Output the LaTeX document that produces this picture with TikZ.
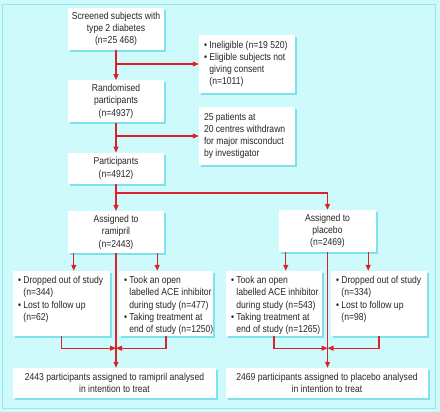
\documentclass[tikz,border=0pt]{standalone}
\usepackage{fontspec}
\setmainfont[FakeStretch=0.86]{Liberation Sans}
\usetikzlibrary{
    arrows.meta,
    positioning,
    calc,
    shadows,
}
\definecolor{bgcyan}{RGB}{206,250,252}
\definecolor{shadecyan}{RGB}{125,226,236}
\definecolor{framecyan}{RGB}{150,232,240}
\definecolor{flowred}{RGB}{222,32,40}
\newcommand{\nsp}{\hphantom{\textbullet\ }}
\newcommand{\listtext}[3]{\parbox[c][#2][t]{#1}{\begin{tabular}{@{}l@{}}#3\end{tabular}}}

\begin{document}
\begin{tikzpicture}[
    x=1pt, y=-1pt,
    font=\fontsize{10}{12.3}\selectfont,
    node distance=30pt,
    box/.style={fill=white, text=black!85, align=center, inner sep=3pt,
                minimum width=96pt, minimum height=42pt,
                drop shadow={shadow xshift=2pt, shadow yshift=-2pt, fill=shadecyan, opacity=1}},
    listbox/.style={box, inner xsep=5pt, inner ysep=4pt},
    flow/.style={-{Triangle[length=6pt,width=5pt]}, draw=flowred, line width=1.1pt},
]

% Background
\fill[bgcyan] (0,0) rectangle (440,412);
\draw[framecyan, line width=0.8pt] (2,4) rectangle (435,408);

% Screening
\node[box] (Screened) at (116,29) {Screened subjects with\\type 2 diabetes\\(n=25 468)};
\node[listbox, minimum height=54pt] (Excluded) at (247,64)
    {\listtext{86pt}{}{\textbullet\ Ineligible (n=19 520)\\\textbullet\ Eligible subjects not\\\nsp giving consent\\\nsp(n=1011)}};

% Randomisation
\node[box] (Randomised) [below=of Screened] {Randomised\\participants\\(n=4937)};
\node[listbox, minimum height=54pt] (Withdrawn) at (247,136)
    {\listtext{86pt}{}{25 patients at\\20 centres withdrawn\\for major misconduct\\by investigator}};

% Participants
\node[box, minimum height=31pt] (Participants) [below=of Randomised] {Participants\\(n=4912)};

% Assignment
\node[box] (Ramipril) [below=27pt of Participants] {Assigned to\\ramipril\\(n=2443)};
\node[box, minimum width=97pt] (Placebo) at (327.5,231) {Assigned to\\placebo\\(n=2469)};

% Ramipril arm
\node[listbox, minimum width=97pt, minimum height=65pt] (DroppedR) at (61.5,303.5)
    {\listtext{87pt}{57pt}{\textbullet\ Dropped out of study\\\nsp(n=344)\\\textbullet\ Lost to follow up\\\nsp(n=62)}};
\node[listbox, minimum width=94pt, minimum height=65pt] (TookR) at (166,303.5)
    {\listtext{84pt}{57pt}{\textbullet\ Took an open\\\nsp labelled ACE inhibitor\\\nsp during study (n=477)\\\textbullet\ Taking treatment at\\\nsp end of study (n=1250)}};

% Placebo arm
\node[listbox, minimum height=65pt] (TookP) at (274,303.5)
    {\listtext{86pt}{57pt}{\textbullet\ Took an open\\\nsp labelled ACE inhibitor\\\nsp during study (n=543)\\\textbullet\ Taking treatment at\\\nsp end of study (n=1265)}};
\node[listbox, minimum height=65pt] (DroppedP) at (379,303.5)
    {\listtext{86pt}{57pt}{\textbullet\ Dropped out of study\\\nsp(n=334)\\\textbullet\ Lost to follow up\\\nsp(n=98)}};

% Analysis
\node[box, minimum width=203pt, minimum height=30pt] (FinalR) at (114.5,383)
    {2443 participants assigned to ramipril analysed\\in intention to treat};
\node[box, minimum width=202pt, minimum height=30pt] (FinalP) at (327,383)
    {2469 participants assigned to placebo analysed\\in intention to treat};

% Lines
\draw[flow] (Screened) -- (Randomised);
\draw[flow] (Screened.south |- Excluded.west) -- (Excluded.west);
\draw[flow] (Randomised) -- (Participants);
\draw[flow] (Randomised.south |- Withdrawn.west) -- (Withdrawn.west);
\draw[flow] (Participants) -- (Ramipril);
\draw[flow] (Participants.south) -- ++(0,9) -| (Placebo.north);

\coordinate (rL) at ([xshift=6pt]Ramipril.south west);
\coordinate (rR) at ([xshift=-7pt]Ramipril.south east);
\draw[flow] (rL) -- (rL |- DroppedR.north);
\draw[flow] (rR) -- (rR |- TookR.north);
\draw[flow] (Ramipril.south) -- (Ramipril.south |- FinalR.north);
\path (Ramipril.south |- DroppedR.south) ++(0,12) coordinate (mR);
\draw[flow] (DroppedR.south) |- (mR);
\draw[flow] (TookR.south) |- (mR);

\coordinate (pL) at ([xshift=7pt]Placebo.south west);
\coordinate (pR) at ([xshift=-8pt]Placebo.south east);
\draw[flow] (pL) -- (pL |- TookP.north);
\draw[flow] (pR) -- (pR |- DroppedP.north);
\draw[flow] (Placebo.south) -- (Placebo.south |- FinalP.north);
\path (Placebo.south |- TookP.south) ++(0,12) coordinate (mP);
\draw[flow] (TookP.south) |- (mP);
\draw[flow] (DroppedP.south) |- (mP);

\end{tikzpicture}
\end{document}
